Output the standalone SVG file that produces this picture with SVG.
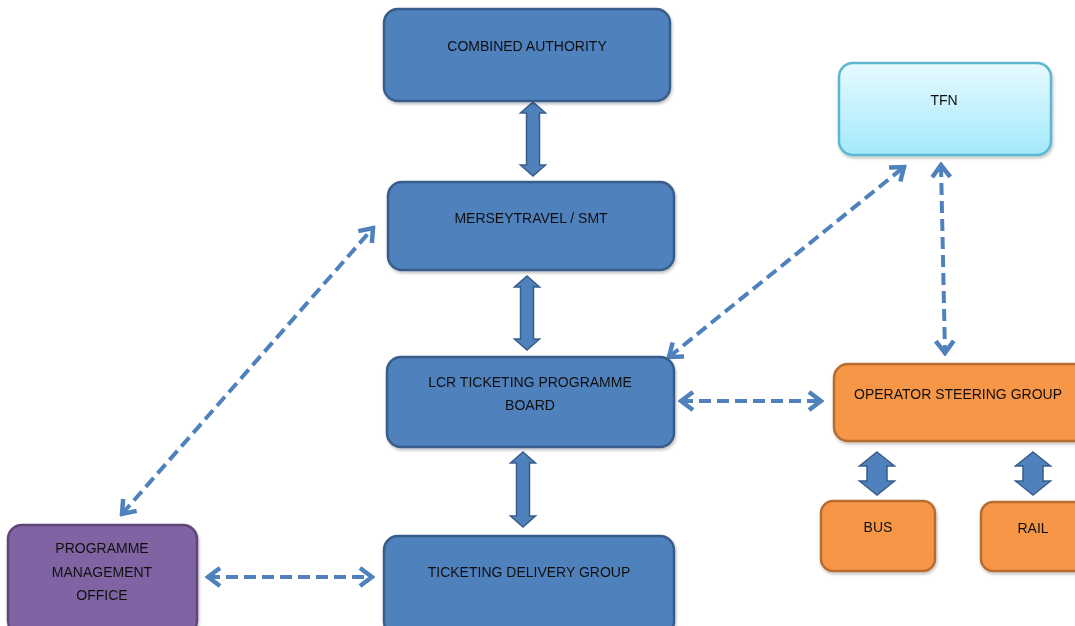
<svg xmlns="http://www.w3.org/2000/svg" width="1075" height="626" viewBox="0 0 1075 626">
<style>
.box{stroke-width:2.5}
.blue{fill:#4f81bd;stroke:#385d8a}
.purple{fill:#8064a2;stroke:#5c4776}
.orange{fill:#f79646;stroke:#b66d31}
.tfn{fill:url(#tfnGrad);stroke:#5bb8d0}
.lbl{font-family:"Liberation Sans",Arial,sans-serif;font-size:14px;fill:#111;text-anchor:middle}
.dash{fill:none;stroke:#4f81bd;stroke-width:4;stroke-dasharray:12 6;marker-start:url(#chev);marker-end:url(#chev)}
.blk{fill:#4f81bd;stroke:#385d8a;stroke-width:1.5}
</style>
<defs>
<linearGradient id="tfnGrad" x1="0" y1="0" x2="0" y2="1">
<stop offset="0" stop-color="#e8faff"/>
<stop offset="1" stop-color="#a2e9fc"/>
</linearGradient>
<filter id="sh" x="-10%" y="-10%" width="130%" height="140%">
<feDropShadow dx="1" dy="2" stdDeviation="1.5" flood-color="#000" flood-opacity="0.25"/>
</filter>
<marker id="chev" markerUnits="userSpaceOnUse" viewBox="-16 -12 19 24" markerWidth="19" markerHeight="24" refX="0" refY="0" orient="auto-start-reverse">
<path d="M -12,-9 L 0,0 L -12,9" fill="none" stroke="#4f81bd" stroke-width="4.5" stroke-linejoin="miter" stroke-linecap="butt"/>
</marker>
</defs>

<g id="connectors">
<path class="blk" d="M533,102 L545.5,113 L539.5,113 L539.5,165 L545.5,165 L533,176 L520.5,165 L526.5,165 L526.5,113 L520.5,113 Z"/>
<path class="blk" d="M527,276 L539.5,287 L533.5,287 L533.5,339 L539.5,339 L527,350 L514.5,339 L520.5,339 L520.5,287 L514.5,287 Z"/>
<path class="blk" d="M523,452 L535.5,463 L529.5,463 L529.5,516 L535.5,516 L523,527 L510.5,516 L516.5,516 L516.5,463 L510.5,463 Z"/>
<path class="blk" d="M877,452 L894.5,466 L887,466 L887,481 L894.5,481 L877,495 L859.5,481 L867,481 L867,466 L859.5,466 Z"/>
<path class="blk" d="M1033,452 L1050.5,466 L1043,466 L1043,481 L1050.5,481 L1033,495 L1015.5,481 L1023,481 L1023,466 L1015.5,466 Z"/>
<line class="dash" x1="122" y1="514" x2="373" y2="228"/>
<line class="dash" x1="208" y1="577" x2="372" y2="577"/>
<line class="dash" x1="681" y1="401" x2="821" y2="401"/>
<line class="dash" x1="669" y1="357" x2="904" y2="167"/>
<line class="dash" x1="941" y1="165" x2="945" y2="353"/>
</g>

<g id="combined-authority" filter="url(#sh)">
<rect class="box blue" x="384" y="9" width="286" height="92" rx="14"/>
<text class="lbl" x="527" y="51">COMBINED AUTHORITY</text>
</g>
<g id="merseytravel" filter="url(#sh)">
<rect class="box blue" x="388" y="182" width="286" height="88" rx="14"/>
<text class="lbl" x="531" y="223">MERSEYTRAVEL / SMT</text>
</g>
<g id="lcr-board" filter="url(#sh)">
<rect class="box blue" x="387" y="357" width="287" height="90" rx="14"/>
<text class="lbl" x="530" y="387">LCR TICKETING PROGRAMME</text>
<text class="lbl" x="530" y="410">BOARD</text>
</g>
<g id="ticketing-delivery" filter="url(#sh)">
<rect class="box blue" x="384" y="536" width="290" height="100" rx="14"/>
<text class="lbl" x="529" y="577">TICKETING DELIVERY GROUP</text>
</g>
<g id="pmo" filter="url(#sh)">
<rect class="box purple" x="8" y="525" width="189" height="110" rx="14"/>
<text class="lbl" x="102" y="553">PROGRAMME</text>
<text class="lbl" x="102" y="577">MANAGEMENT</text>
<text class="lbl" x="102" y="600">OFFICE</text>
</g>
<g id="tfn" filter="url(#sh)">
<rect class="box tfn" x="839" y="63" width="212" height="92" rx="14" stroke-width="1.5"/>
<text class="lbl" x="944" y="105">TFN</text>
</g>
<g id="operator-steering" filter="url(#sh)">
<rect class="box orange" x="834" y="364" width="260" height="77" rx="14"/>
<text class="lbl" x="958" y="399">OPERATOR STEERING GROUP</text>
</g>
<g id="bus" filter="url(#sh)">
<rect class="box orange" x="821" y="501" width="114" height="70" rx="12"/>
<text class="lbl" x="878" y="532">BUS</text>
</g>
<g id="rail" filter="url(#sh)">
<rect class="box orange" x="981" y="502" width="110" height="69" rx="12"/>
<text class="lbl" x="1033" y="533">RAIL</text>
</g>
</svg>
